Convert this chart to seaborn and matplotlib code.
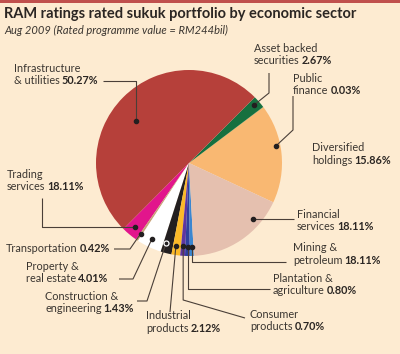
"""RAM ratings rated sukuk portfolio by economic sector - pie with leader labels."""

import matplotlib

matplotlib.use("Agg")
import matplotlib.pyplot as plt
import numpy as np
import seaborn as sns

sns.set_theme(style="white")
plt.rcParams["font.family"] = ["Lato", "DejaVu Sans"]

# wedge order: counter-clockwise, starting just below 3 o'clock
SECTORS = [
    "Diversified holdings",
    "Public finance",
    "Asset backed securities",
    "Infrastructure & utilities",
    "Trading services",
    "Transportation",
    "Property & real estate",
    "Construction & engineering",
    "Industrial products",
    "Consumer products",
    "Plantation & agriculture",
    "Mining & petroleum",
    "Financial services",
]
# wedge sizes as drawn in the picture (%)
SHARES = [17.2, 0.03, 2.2, 50.0, 2.8, 0.42, 4.3, 1.9, 1.5, 0.83, 0.83, 0.7, 17.2]
# percentages as printed on the labels
LABEL_PCT = ["15.86%", "0.03%", "2.67%", "50.27%", "18.11%", "0.42%", "4.01%",
             "1.43%", "2.12%", "0.70%", "0.80%", "18.11%", "18.11%"]
LABEL_LINES = [
    ["Diversified", "holdings"],
    ["Public", "finance"],
    ["Asset backed", "securities"],
    ["Infrastructure", "& utilities"],
    ["Trading", "services"],
    ["Transportation"],
    ["Property &", "real estate"],
    ["Construction &", "engineering"],
    ["Industrial", "products"],
    ["Consumer", "products"],
    ["Plantation &", "agriculture"],
    ["Mining &", "petroleum"],
    ["Financial", "services"],
]
COLORS = ["#F9B872", "#2E8B57", "#17703F", "#B6403A", "#E2158C", "#C8A27C", "#FFFFFF",
          "#231F20", "#FBB928", "#5E35A0", "#2E3F9E", "#3A86D0", "#E5C0AF"]

BG = "#FDEBD1"
INK = "#3A3530"
W, H = 400, 354
CENTER = (189, 163)  # pixels, y down
RADIUS = 93

# label placement: x, centre y of last line (pixels)
LABEL_POS = [(312, 160), (293, 91), (254, 61), (14, 81), (7, 187), (6, 249),
             (26, 279), (45, 309), (146, 328), (250, 327), (273, 291), (293, 260),
             (297, 227)]
# leader anchor (angle deg, radius fraction) and path after the dot; None x = dot x
ANCHORS = [None, (11, 0.95), (41.7, 0.94), (142, 0.73), (229.8, 0.9), (235.6, 0.92),
           (244, 0.91), (254, 0.9), (261, 0.9), (266, 0.9), (269, 0.9), (272, 0.9),
           (319, 0.91)]
PATHS = [
    None,
    [(293, 130), (293, 96)],
    [(269, 93), (269, 73)],
    [(None, 81), (103, 81)],
    [(42, "dot"), (42, 198)],
    [(130, 249), (114, 249)],
    [(133, 279), (119, 279)],
    [(147, 301), (137, 301)],
    [(170, 312)],
    [(None, 300), (245, 318)],
    [(None, 289), (270, 289)],
    [(None, 262), (286, 262)],
    [(294, "dot")],
]


def py(y):
    return H - y


def main():
    fig = plt.figure(figsize=(W / 100, H / 100), dpi=100, facecolor=BG)
    ax = fig.add_axes([0, 0, 1, 1])
    ax.set_facecolor(BG)

    ax.pie(SHARES, colors=COLORS, startangle=-25, counterclock=True,
           center=(CENTER[0], py(CENTER[1])), radius=RADIUS, frame=True,
           wedgeprops=dict(linewidth=0))
    ax.set_xlim(0, W)
    ax.set_ylim(0, H)
    ax.set_aspect("equal")
    ax.axis("off")

    # top red rule
    ax.axhspan(H - 2.5, H, color="#C0504D", lw=0)

    ax.text(4, py(14), "RAM ratings rated sukuk portfolio by economic sector",
            fontsize=10.5, fontweight="bold", color="#2B2623", va="center")
    ax.text(4, py(30), "Aug 2009 (Rated programme value = RM244bil)",
            fontsize=8, style="italic", color=INK, va="center")

    fig.canvas.draw()
    renderer = fig.canvas.get_renderer()
    inv = ax.transData.inverted()

    for lines, pct, (lx, ly), anchor, path in zip(LABEL_LINES, LABEL_PCT, LABEL_POS,
                                                   ANCHORS, PATHS):
        n = len(lines)
        for i, line in enumerate(lines):
            y = ly - (n - 1 - i) * 12.5
            t = ax.text(lx, py(y), line, fontsize=7.8, color=INK, va="center")
            if i == n - 1:
                bb = t.get_window_extent(renderer)
                x1 = inv.transform((bb.x1, bb.y0))[0]
                ax.text(x1 + 2, py(y), pct, fontsize=7.8, fontweight="bold",
                        color="#2B2623", va="center")

        if anchor is None:
            continue
        ang, frac = anchor
        dx = CENTER[0] + frac * RADIUS * np.cos(np.radians(ang))
        dy = CENTER[1] - frac * RADIUS * np.sin(np.radians(ang))
        pts = [(dx, dy)]
        for px_, py_ in path:
            px_ = dx if px_ is None else px_
            py_ = dy if py_ == "dot" else py_
            pts.append((px_, py_))
        xs = [p[0] for p in pts]
        ys = [py(p[1]) for p in pts]
        ax.plot(xs, ys, color="#4A3F38", lw=0.8, solid_capstyle="butt")
        if lines[0] == "Construction &":
            ax.plot(dx, py(dy), "o", ms=3.6, mfc="#231F20", mec="white", mew=0.9)
        else:
            ax.plot(dx, py(dy), "o", ms=3, color="#231F20")

    fig.savefig("out.png", dpi=100, facecolor=BG)


if __name__ == "__main__":
    main()
